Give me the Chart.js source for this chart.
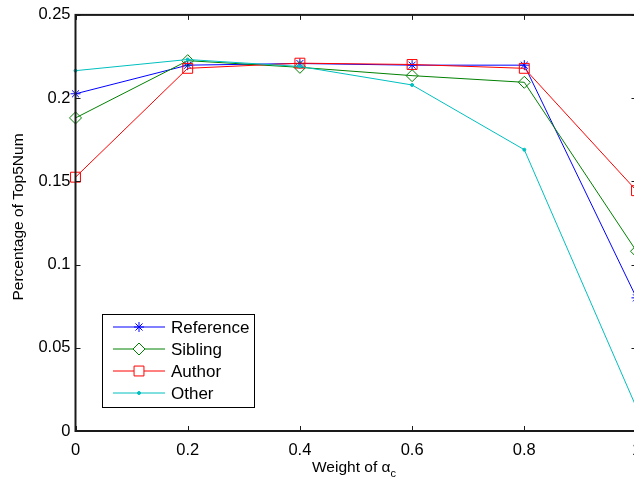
<!DOCTYPE html>
<html>
<head>
<meta charset="utf-8">
<script src="https://cdn.jsdelivr.net/npm/chart.js@4/dist/chart.umd.min.js"></script>
<style>
  html, body { margin: 0; padding: 0; background: #fff; }
  #wrap { width: 634px; height: 481px; overflow: hidden; position: relative; }
  canvas { position: absolute; left: 0; top: 0; }
</style>
</head>
<body>
<div id="wrap"><canvas id="c" width="660" height="481"></canvas></div>
<script>
// valores
const weights = [0, 0.2, 0.4, 0.6, 0.8, 1];
const reference = [0.2026, 0.2198, 0.2208, 0.2198, 0.2198, 0.080];
const sibling   = [0.1881, 0.2225, 0.2185, 0.2135, 0.2095, 0.108];
const author    = [0.1525, 0.2179, 0.2210, 0.2202, 0.2179, 0.1444];
const other     = [0.2165, 0.2232, 0.2190, 0.2079, 0.1690, 0.014];

const seriesNames = ['Reference', 'Sibling', 'Author', 'Other'];
const xTickLabels = ['0', '0.2', '0.4', '0.6', '0.8', '1'];
const yTickLabels = ['0', '0.05', '0.1', '0.15', '0.2', '0.25'];

const FONT = '"Liberation Sans", Arial, Helvetica, sans-serif';

function pts(vals) {
  return weights.map((x, i) => ({ x: x, y: vals[i] }));
}

const styles = [
  { color: '#0000ff', pointStyle: 'star', radius: 5, fill: 'rgba(0,0,0,0)' },
  { color: '#008000', pointStyle: 'rectRot', radius: 6, fill: 'rgba(0,0,0,0)' },
  { color: '#ff0000', pointStyle: 'rect', radius: 7, fill: 'rgba(0,0,0,0)' },
  { color: '#00bfbf', pointStyle: 'circle', radius: 1.5, fill: '#00bfbf' }
];
const series = [reference, sibling, author, other];

const datasets = series.map((vals, i) => ({
  label: seriesNames[i],
  data: pts(vals),
  borderColor: styles[i].color,
  backgroundColor: styles[i].fill,
  borderWidth: 1,
  pointStyle: styles[i].pointStyle,
  pointRadius: styles[i].radius,
  pointBorderColor: styles[i].color,
  pointBackgroundColor: styles[i].fill,
  pointBorderWidth: 1,
  tension: 0,
  clip: false,
  order: 3 - i
}));

// ejes estilo matlab: caja, ticks hacia adentro, titulo con subindice, leyenda
const matlabAxes = {
  id: 'matlabAxes',
  afterDraw(chart) {
    const ctx = chart.ctx;
    const a = chart.chartArea;
    const xs = chart.scales.x, ys = chart.scales.y;
    ctx.save();
    ctx.strokeStyle = '#1a1a1a';
    ctx.lineWidth = 1;
    const tl = 5;
    ctx.beginPath();
    weights.forEach(v => {
      const px = Math.round(xs.getPixelForValue(v)) + 0.5;
      ctx.moveTo(px, a.bottom); ctx.lineTo(px, a.bottom - tl);
      ctx.moveTo(px, a.top); ctx.lineTo(px, a.top + tl);
    });
    yTickLabels.forEach(t => {
      const py = Math.round(ys.getPixelForValue(parseFloat(t))) + 0.5;
      ctx.moveTo(a.left, py); ctx.lineTo(a.left + tl, py);
      ctx.moveTo(a.right, py); ctx.lineTo(a.right - tl, py);
    });
    ctx.stroke();
    ctx.lineWidth = 2;
    ctx.strokeRect(a.left, a.top, a.right - a.left, a.bottom - a.top);

    // titulo del eje x con subindice
    ctx.fillStyle = '#000';
    ctx.textBaseline = 'alphabetic';
    ctx.font = '15.5px ' + FONT;
    const main = 'Weight of \u03b1';
    const wMain = ctx.measureText(main).width;
    ctx.font = '11px ' + FONT;
    const wSub = ctx.measureText('c').width;
    const x0 = 354 - (wMain + wSub) / 2;
    ctx.font = '15.5px ' + FONT;
    ctx.textAlign = 'left';
    ctx.fillText(main, x0, 472);
    ctx.font = '11px ' + FONT;
    ctx.fillText('c', x0 + wMain, 477);

    // titulo eje y
    ctx.save();
    ctx.translate(23, 217);
    ctx.rotate(-Math.PI / 2);
    ctx.font = '15.5px ' + FONT;
    ctx.textAlign = 'center';
    ctx.fillText('Percentage of Top5Num', 0, 0);
    ctx.restore();

    // leyenda
    const bx = 102.5, by = 314.5, bw = 152, bh = 93;
    ctx.fillStyle = '#fff';
    ctx.fillRect(bx, by, bw, bh);
    ctx.lineWidth = 1;
    ctx.strokeStyle = '#000';
    ctx.strokeRect(bx, by, bw, bh);
    const rowsY = [327, 349, 371, 393];
    seriesNames.forEach((name, i) => {
      const s = styles[i];
      const y = rowsY[i];
      ctx.strokeStyle = s.color;
      ctx.lineWidth = 1;
      ctx.beginPath();
      ctx.moveTo(113, y); ctx.lineTo(165, y);
      ctx.stroke();
      ctx.fillStyle = s.fill === 'rgba(0,0,0,0)' ? '#fff' : s.fill;
      Chart.helpers.drawPoint(ctx, {
        pointStyle: s.pointStyle, radius: s.radius, rotation: 0, borderWidth: 1
      }, 139, y);
      ctx.fillStyle = '#000';
      ctx.font = '17px ' + FONT;
      ctx.textAlign = 'left';
      ctx.textBaseline = 'middle';
      ctx.fillText(name, 171, y + 1);
    });
    ctx.restore();
  }
};

new Chart(document.getElementById('c').getContext('2d'), {
  type: 'line',
  data: { datasets: datasets },
  options: {
    responsive: false,
    animation: false,
    devicePixelRatio: 1,
    layout: { padding: { top: 11, right: 23.5, left: 0, bottom: 0 } },
    plugins: {
      legend: { display: false },
      tooltip: { enabled: false }
    },
    scales: {
      x: {
        type: 'linear',
        min: 0, max: 1,
        afterFit: s => { s.height = 50; },
        afterBuildTicks: s => { s.ticks = weights.map(v => ({ value: v })); },
        grid: { display: false, drawTicks: false },
        border: { display: false },
        ticks: {
          color: '#000',
          font: { family: FONT, size: 16.5 },
          padding: 10,
          maxRotation: 0,
          callback: (v, i) => xTickLabels[i]
        }
      },
      y: {
        min: 0, max: 0.25,
        afterFit: s => { s.width = 75.5; },
        afterBuildTicks: s => { s.ticks = yTickLabels.map(t => ({ value: parseFloat(t) })); },
        grid: { display: false, drawTicks: false },
        border: { display: false },
        ticks: {
          color: '#000',
          font: { family: FONT, size: 16.5 },
          padding: 5,
          callback: (v, i) => yTickLabels[i]
        }
      }
    }
  },
  plugins: [matlabAxes]
});
</script>
</body>
</html>
